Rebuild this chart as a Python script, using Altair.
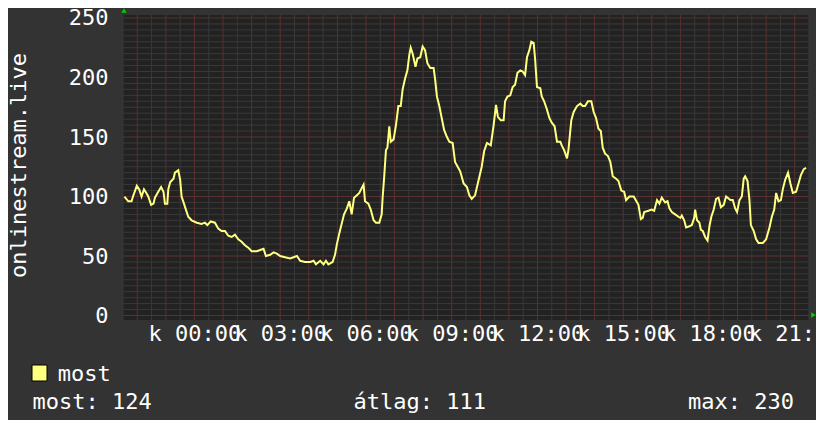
import json
import altair as alt
import pandas as pd

# ---- data (minutes relative to 00:00, value) ----
minutes = [
    -147, -139, -132, -129, -121, -116, -111, -106, -101, -97,
    -91, -86, -83, -76, -70, -65, -62, -57, -55, -51,
    -44, -41, -34, -30, -27, -22, -18, -13, -6, 5,
    15, 22, 27, 34, 43, 50, 57, 64, 71, 78,
    85, 92, 99, 106, 113, 120, 131, 138, 145, 150,
    159, 166, 173, 180, 190, 201, 215, 222, 232, 243,
    250, 255, 264, 271, 276, 281, 290, 295, 299, 304,
    309, 314, 320, 325, 330, 335, 341, 346, 351, 355,
    358, 365, 370, 376, 381, 388, 393, 395, 398, 402,
    405, 409, 412, 418, 423, 428, 433, 437, 442, 447,
    451, 454, 458, 464, 468, 474, 479, 484, 489, 495,
    502, 505, 509, 514, 519, 524, 530, 535, 542, 547,
    554, 558, 565, 572, 577, 582, 589, 596, 603, 608,
    614, 622, 628, 633, 637, 643, 649, 652, 657, 663,
    668, 673, 678, 684, 689, 694, 698, 703, 707, 712,
    715, 719, 726, 729, 734, 740, 745, 750, 756, 761,
    768, 771, 776, 782, 785, 791, 796, 803, 810, 815,
    820, 826, 833, 838, 843, 848, 853, 857, 862, 868,
    873, 878, 885, 890, 896, 902, 906, 913, 922, 932,
    937, 941, 944, 953, 960, 965, 971, 976, 981, 988,
    993, 997, 1002, 1009, 1016, 1020, 1023, 1028, 1032, 1039,
    1044, 1049, 1051, 1055, 1060, 1063, 1067, 1072, 1077, 1081,
    1085, 1090, 1095, 1100, 1105, 1111, 1116, 1125, 1130, 1135,
    1139, 1144, 1149, 1153, 1156, 1161, 1165, 1168, 1174, 1179,
    1184, 1193, 1200, 1207, 1212, 1217, 1221, 1226, 1231, 1235,
    1240, 1246, 1251, 1256, 1263, 1268, 1273, 1279, 1284,
]
values = [
    100, 96, 96, 100, 109, 106, 100, 106, 103, 100,
    93, 94, 99, 104, 108, 104, 94, 94, 106, 112,
    115, 120, 122, 114, 100, 94, 89, 83, 80, 78,
    77, 78, 76, 79, 78, 73, 71, 71, 67, 66,
    68, 64, 62, 59, 57, 54, 54, 55, 56, 50,
    51, 53, 52, 50, 49, 48, 50, 46, 45, 45,
    46, 43, 46, 43, 46, 43, 45, 51, 60, 69,
    77, 85, 90, 96, 85, 99, 101, 103, 107, 110,
    96, 94, 89, 80, 78, 78, 85, 99, 115, 139,
    141, 159, 146, 148, 160, 176, 176, 190, 199, 206,
    219, 225, 220, 209, 216, 217, 226, 223, 212, 208,
    208, 199, 184, 176, 166, 156, 150, 146, 145, 129,
    124, 121, 111, 108, 101, 98, 101, 113, 125, 138,
    145, 143, 160, 177, 167, 164, 164, 180, 184, 185,
    192, 194, 204, 206, 205, 202, 217, 223, 230, 229,
    216, 192, 191, 184, 180, 173, 166, 162, 159, 146,
    146, 143, 139, 132, 139, 164, 171, 176, 178, 176,
    176, 180, 180, 171, 166, 157, 155, 141, 136, 134,
    129, 117, 115, 113, 105, 104, 97, 100, 100, 93,
    81, 82, 87, 88, 89, 88, 97, 94, 99, 95,
    96, 90, 87, 85, 83, 82, 84, 80, 74, 75,
    76, 82, 89, 80, 78, 72, 71, 66, 63, 75,
    83, 89, 98, 99, 91, 93, 100, 97, 97, 90,
    87, 97, 100, 115, 117, 113, 97, 76, 71, 64,
    61, 61, 64, 74, 83, 89, 103, 96, 97, 106,
    114, 120, 111, 103, 104, 111, 118, 123, 124,
]
assert len(minutes) == len(values)

series_name = "most"
y_title = "onlinestream.live"
x_tick_minutes = [0, 180, 360, 540, 720, 900, 1080, 1260]
x_tick_labels = ["k 00:00", "k 03:00", "k 06:00", "k 09:00",
                 "k 12:00", "k 15:00", "k 18:00", "k 21:00"]
y_ticks = [0, 50, 100, 150, 200, 250]
stats_labels = ["most: 124", "átlag: 111", "max: 230"]

FONT = "DejaVu Sans Mono"
FS = 22
TXT = "#ffffff"
YELLOW = "#ffff80"
MINOR = "#393939"
MAJOR = "#5c3030"

W, H = 686, 305

df = pd.DataFrame({"t": minutes, "v": values})
one = pd.DataFrame({"a": [0]})

xs = alt.Scale(domain=[-150, 1290], nice=False, zero=False)
ys = alt.Scale(domain=[-3.78, 252.52], nice=False, zero=False)

label_expr = json.dumps(x_tick_labels) + "[round(datum.value/180)]"

x_axis = alt.Axis(
    values=x_tick_minutes, labelExpr=label_expr, grid=False, ticks=False, tickSize=0,
    domain=False, labelFont=FONT, labelFontSize=FS, labelColor=TXT,
    labelOverlap=False, labelFlush=False, labelPadding=3, title=None)
y_axis = alt.Axis(
    values=y_ticks, grid=False, ticks=False, tickSize=0, domain=False,
    labelFont=FONT, labelFontSize=FS, labelColor=TXT, labelOverlap=False,
    labelPadding=15, title=y_title, titleFont=FONT, titleFontSize=FS,
    titleFontWeight="normal", titleColor=TXT, titleAngle=270,
    titleX=-98, titleY=150, titleAlign="center", titleBaseline="alphabetic")

minor_x = pd.DataFrame({"t": [m for m in range(-150, 1291, 30) if m % 60 != 0]})
major_x = pd.DataFrame({"t": list(range(-120, 1291, 60))})
minor_y = pd.DataFrame({"v": [v for v in range(0, 251, 5) if v % 50 != 0]})
major_y = pd.DataFrame({"v": list(range(0, 251, 50))})


def vrules(d, color):
    return alt.Chart(d).mark_rule(color=color, strokeWidth=1, opacity=1).encode(
        x=alt.X("t:Q", scale=xs, axis=x_axis),
        y=alt.value(0), y2=alt.value(H))


def hrules(d, color):
    return alt.Chart(d).mark_rule(color=color, strokeWidth=1, opacity=1).encode(
        y=alt.Y("v:Q", scale=ys, axis=y_axis),
        x=alt.value(0), x2=alt.value(W))


line = alt.Chart(df).mark_line(color=YELLOW, strokeWidth=2, interpolate="linear").encode(
    x=alt.X("t:Q", scale=xs, axis=x_axis),
    y=alt.Y("v:Q", scale=ys, axis=y_axis),
)


def txt(s, x, y):
    return alt.Chart(one).mark_text(align="left", baseline="alphabetic", font=FONT,
                                    fontSize=FS, color=TXT).encode(
        x=alt.value(x), y=alt.value(y), text=alt.value(s))


legend_box = alt.Chart(one).mark_rect(fill=YELLOW, stroke="#000000", strokeWidth=1).encode(
    x=alt.value(-91), x2=alt.value(-76), y=alt.value(350), y2=alt.value(366))

arrow_up = alt.Chart(one).mark_point(shape="triangle-up", filled=True, color="#00cc00",
                                     size=30, opacity=1).encode(
    x=alt.value(1), y=alt.value(-4.5))
arrow_right = alt.Chart(one).mark_point(shape="triangle-right", filled=True, color="#00cc00",
                                        size=30, opacity=1).encode(
    x=alt.value(690.5), y=alt.value(300))

chart = alt.layer(
    vrules(minor_x, MINOR), hrules(minor_y, MINOR),
    vrules(major_x, MAJOR), hrules(major_y, MAJOR),
    line,
    legend_box,
    txt(series_name, -65.2, 365.7),
    txt(stats_labels[0], -90.4, 394.3),
    txt(stats_labels[1], 230.6, 394.3),
    txt(stats_labels[2], 565, 394.3),
    arrow_up, arrow_right,
).properties(
    width=W, height=H,
    autosize=alt.AutoSizeParams(type="none"),
    padding={"left": 115, "top": 7, "right": 7, "bottom": 100},
    background="#333333",
).configure_view(fill="#222222", stroke=None)

chart.save("out.html", embed_options={"renderer": "svg", "actions": False})
